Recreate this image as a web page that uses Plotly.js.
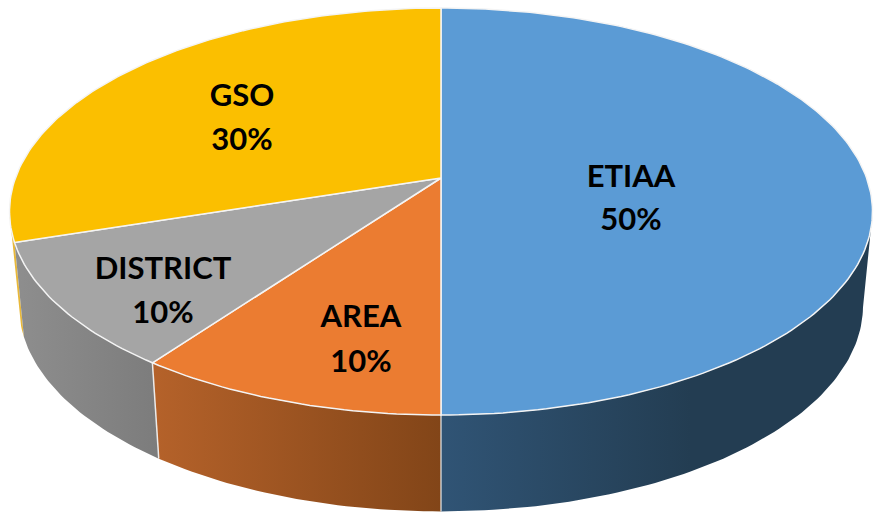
<!DOCTYPE html>
<html>
<head>
<meta charset="utf-8">
<script src="https://cdn.plot.ly/plotly-3.0.1.min.js"></script>
<style>html,body{margin:0;padding:0;background:#fff}#chart{width:877px;height:512px}</style>
</head>
<body>
<div id="chart"></div>
<script>
// ---- data ----
var categories = ['ETIAA', 'AREA', 'DISTRICT', 'GSO'];
var shares = [50, 10, 10, 30];
var topColors = ['#5B9BD5', '#EB7C31', '#A5A5A5', '#FBBF00'];
var wallFrom = ['#305475', '#B5622A', '#8E8E8E', '#E8B83A'];
var wallTo = ['#233D52', '#824518', '#7C7C7C', '#E8B83A'];
var labelX = [631, 361, 163, 242];
var nameY = [179, 319, 271, 98];
var shareY = [222, 364, 315, 142];

// ---- pie projection (tilted disc seen in perspective) ----
var cx = 441, cy = 178, ax = 425.6, by = 198, persp = 0.1646;
var floorScaleX = 0.978, floorScaleY = 1.01, floorY = 272;
function project(deg, level) {
  var t = deg * Math.PI / 180, X = Math.sin(t), Y = Math.cos(t), w = 1 + persp * Y;
  var sx = level ? floorScaleX : 1, sy = level ? floorScaleY : 1, c = level ? floorY : cy;
  return [cx + sx * ax * X / w, c - sy * by * Y / w];
}
function arc(a, b, level) {
  var pts = [], n = Math.max(2, Math.ceil(Math.abs(b - a)));
  for (var i = 0; i <= n; i++) pts.push(project(a + (b - a) * i / n, level));
  return pts;
}
function xs(p) { return p.map(function (q) { return q[0]; }); }
function ys(p) { return p.map(function (q) { return q[1]; }); }

var bounds = [0];
shares.forEach(function (v, i) { bounds.push(bounds[i] + v * 3.6); });

var traces = [];
// side walls, clipped to the visible front part of the rim
var visFrom = 100, visTo = 260;
[3, 0, 1, 2].forEach(function (i) {
  var a = Math.max(bounds[i], visFrom), b = Math.min(bounds[i + 1], visTo);
  if (b <= a) return;
  var poly = arc(a, b, 0).concat(arc(b, a, 1));
  poly.push(poly[0]);
  var gx = xs(poly);
  var left = Math.min.apply(null, gx), right = Math.max.apply(null, gx);
  traces.push({
    type: 'scatter', mode: 'lines', x: gx, y: ys(poly), fill: 'toself',
    line: {width: 0, color: wallFrom[i]}, hoverinfo: 'skip',
    fillgradient: {
      type: 'horizontal', start: left, stop: i === 0 ? left + 250 : right,
      colorscale: [[0, wallFrom[i]], [1, wallTo[i]]]
    }
  });
});
// wall separators
[[180, 'rgba(225,225,225,0.85)'], [216, 'rgba(240,240,240,0.95)']].forEach(function (e) {
  var p = [project(e[0], 0), project(e[0], 1)];
  traces.push({type: 'scatter', mode: 'lines', x: xs(p), y: ys(p), hoverinfo: 'skip',
    line: {width: 1.5, color: e[1]}});
});
// top faces
shares.forEach(function (v, i) {
  var poly = [[cx, cy]].concat(arc(bounds[i], bounds[i + 1], 0));
  poly.push([cx, cy]);
  traces.push({
    type: 'scatter', mode: 'lines', x: xs(poly), y: ys(poly), fill: 'toself',
    fillcolor: topColors[i], line: {width: 1.5, color: '#F4F4F4'}, hoverinfo: 'skip'
  });
});
// labels
var font = {family: 'Lato, "Open Sans", sans-serif', size: 31, color: '#000000', weight: 700};
traces.push({type: 'scatter', mode: 'text', x: labelX, y: nameY, text: categories,
  textposition: 'middle center', textfont: font, hoverinfo: 'skip'});
traces.push({type: 'scatter', mode: 'text', x: labelX, y: shareY,
  text: shares.map(function (v) { return v + '%'; }),
  textposition: 'middle center', textfont: font, hoverinfo: 'skip'});

Plotly.newPlot('chart', traces, {
  width: 877, height: 512, margin: {l: 0, r: 0, t: 0, b: 0},
  paper_bgcolor: '#ffffff', plot_bgcolor: '#ffffff', showlegend: false,
  xaxis: {range: [0, 877], visible: false, fixedrange: true},
  yaxis: {range: [512, 0], visible: false, fixedrange: true}
}, {displayModeBar: false, staticPlot: true});
</script>
</body>
</html>
